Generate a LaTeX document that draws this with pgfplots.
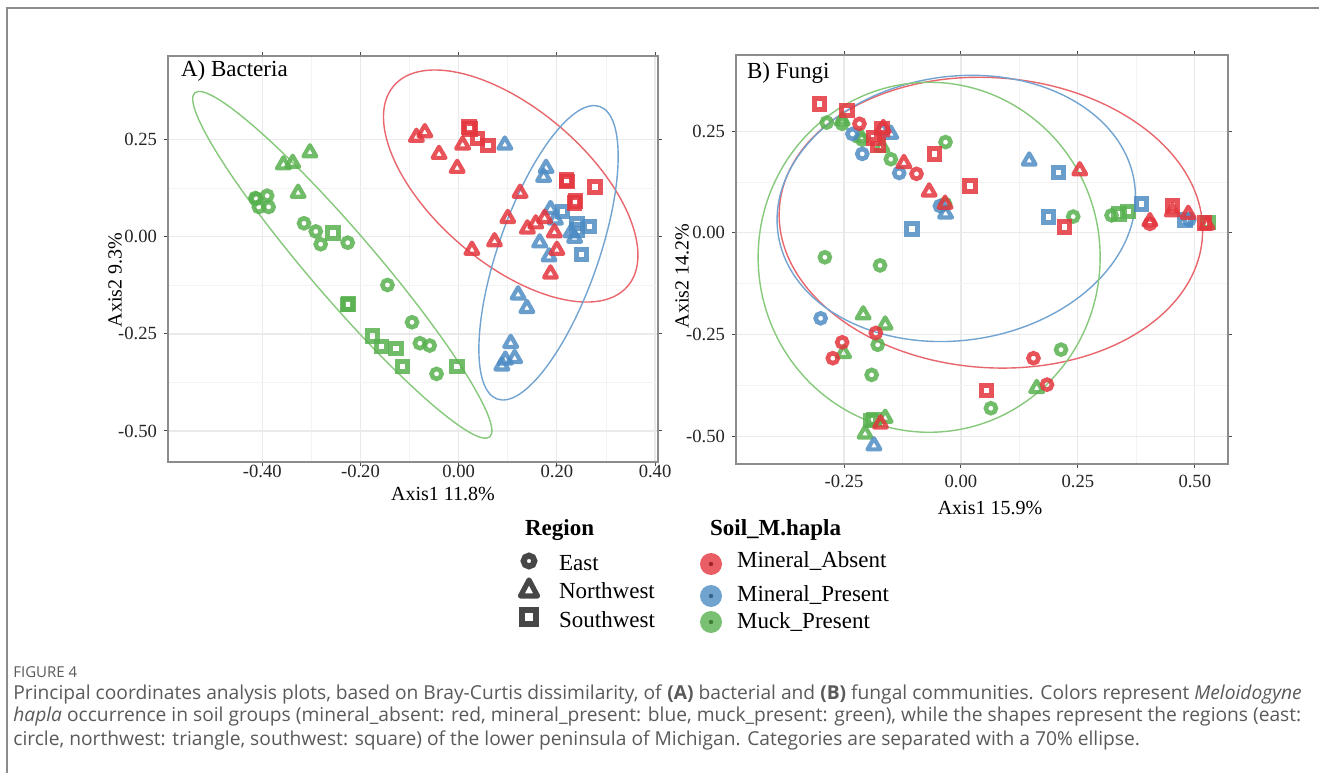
\documentclass[border=0pt]{standalone}
\usepackage{fontspec}
\setmainfont{Liberation Serif}
\newfontfamily\capfont{Open Sans}
\usepackage{pgfplots}
\pgfplotsset{compat=1.18}
\definecolor{cR}{HTML}{E4363E}
\definecolor{cB}{HTML}{4E8CC4}
\definecolor{cG}{HTML}{58B14F}
\definecolor{eR}{HTML}{E8666C}
\definecolor{eB}{HTML}{72A4D2}
\definecolor{eG}{HTML}{86C97B}
\definecolor{frame}{HTML}{8C8C8C}
\definecolor{gmaj}{HTML}{EAEAEA}
\definecolor{gmin}{HTML}{F3F3F3}
\definecolor{capgray}{HTML}{5A5A5A}
\definecolor{leggray}{HTML}{474747}
\pgfplotsset{
  pc/.style={
    scale only axis,
    axis line style={draw=frame, line width=1pt},
    grid=both,
    major grid style={draw=gmaj, line width=0.6pt},
    minor grid style={draw=gmin, line width=0.4pt},
    minor tick num=1, minor tick length=0pt,
    tick align=outside, major tick length=2pt,
    tick style={draw=black!70, line width=0.5pt},
    ticklabel style={font=\fontsize{9.3}{11}\selectfont, text=black!85},
    clip=false,
  },
  mC/.style={only marks, mark=o, mark size=2.5pt, mark options={line width=2.3pt, solid, draw opacity=0.85}},
  mT/.style={only marks, mark=triangle, mark size=3.7pt, mark options={line width=2.1pt, solid, line join=round, draw opacity=0.85}},
  mS/.style={only marks, mark=square, mark size=2.6pt, mark options={line width=2.5pt, solid, draw opacity=0.85}},
}
\begin{document}
\begin{tikzpicture}[x=0.5pt,y=0.5pt]
\path[use as bounding box, fill=white] (0,0) rectangle (1319,773);
\draw[frame, line width=1pt] (7,0) -- (7,765) -- (1319,765);

% ---------------- Panel A ----------------
\begin{axis}[pc, at={(84pt,155.5pt)}, anchor=south west, width=245pt, height=203pt,
  xmin=-0.592, xmax=0.406, ymin=-0.58, ymax=0.466,
  xtick={-0.4,-0.2,0,0.2,0.4}, xticklabels={-0.40,-0.20,0.00,0.20,0.40},
  xticklabel style={yshift=4pt},
  ytick={-0.5,-0.25,0,0.25}, yticklabels={-0.50,-0.25,0.00,0.25}]
\draw[eG, line width=0.7pt, rotate around={-49.4:(axis cs:-0.237,-0.072)}] (axis cs:-0.237,-0.072) ellipse [x radius=113.3pt, y radius=16.5pt];
\draw[eR, line width=0.7pt, rotate around={-40.6:(axis cs:0.106,0.131)}] (axis cs:0.106,0.131) ellipse [x radius=77pt, y radius=38.5pt];
\draw[eB, line width=0.7pt, rotate around={70.7:(axis cs:0.183,-0.041)}] (axis cs:0.183,-0.041) ellipse [x radius=77.5pt, y radius=25pt];
% green
\addplot[mT, cG] coordinates {(-0.357,0.186) (-0.338,0.190) (-0.303,0.217) (-0.327,0.113)};
\addplot[mC, cG] coordinates {(-0.414,0.100) (-0.412,0.098) (-0.390,0.106) (-0.407,0.077) (-0.387,0.077) (-0.315,0.035) (-0.291,0.014) (-0.281,-0.019) (-0.226,-0.015) (-0.145,-0.124) (-0.095,-0.220) (-0.079,-0.274) (-0.059,-0.280) (-0.045,-0.353)};
\addplot[mS, cG] coordinates {(-0.256,0.010) (-0.226,-0.175) (-0.224,-0.173) (-0.176,-0.255) (-0.157,-0.283) (-0.128,-0.287) (-0.115,-0.334) (-0.003,-0.334)};
% blue
\addplot[mT, cB] coordinates {(0.094,0.237) (0.178,0.177) (0.173,0.154) (0.187,0.071) (0.197,0.044) (0.165,-0.015) (0.184,-0.051) (0.229,0.011) (0.236,-0.003) (0.121,-0.149) (0.139,-0.184) (0.106,-0.274) (0.114,-0.313) (0.088,-0.332) (0.095,-0.317)};
\addplot[mS, cB] coordinates {(0.212,0.065) (0.241,0.035) (0.267,0.027) (0.241,0.018) (0.250,-0.046)};
% red
\addplot[mT, cR] coordinates {(-0.086,0.257) (-0.069,0.269) (-0.040,0.213) (-0.003,0.177) (0.008,0.237) (0.027,-0.034) (0.073,-0.012) (0.125,0.113) (0.100,0.048) (0.140,0.021) (0.157,0.034) (0.175,0.048) (0.195,0.011) (0.200,-0.034) (0.187,-0.095)};
\addplot[mS, cR] coordinates {(0.021,0.283) (0.023,0.278) (0.038,0.254) (0.060,0.235) (0.219,0.147) (0.221,0.142) (0.278,0.128) (0.236,0.087) (0.238,0.092)};
\end{axis}

% ---------------- Panel B ----------------
\begin{axis}[pc, at={(368pt,154.5pt)}, anchor=south west, width=246pt, height=204.5pt,
  xmin=-0.481, xmax=0.571, ymin=-0.568, ymax=0.437,
  xtick={-0.25,0,0.25,0.5}, xticklabels={-0.25,0.00,0.25,0.50},
  ytick={-0.5,-0.25,0,0.25}, yticklabels={-0.50,-0.25,0.00,0.25}]
\draw[eR, line width=0.7pt, rotate around={-4:(axis cs:0.064,0.025)}] (axis cs:0.064,0.025) ellipse [x radius=106pt, y radius=72.5pt];
\draw[eB, line width=0.7pt, rotate around={8:(axis cs:-0.010,0.060)}] (axis cs:-0.010,0.060) ellipse [x radius=90pt, y radius=66pt];
\draw[eG, line width=0.7pt] (axis cs:-0.068,-0.060) ellipse [x radius=85.5pt, y radius=87.5pt];
% green
\addplot[mC, cG] coordinates {(-0.287,0.271) (-0.254,0.268) (-0.211,0.229) (-0.150,0.181) (-0.033,0.223) (-0.034,0.071) (-0.291,-0.060) (-0.173,-0.080) (-0.178,-0.275) (-0.191,-0.349) (0.214,-0.287) (0.064,-0.431) (0.240,0.040) (0.322,0.043)};
\addplot[mT, cG] coordinates {(-0.254,0.276) (-0.214,0.235) (-0.169,0.211) (-0.209,-0.201) (-0.162,-0.226) (-0.251,-0.296) (-0.162,-0.455) (-0.205,-0.494) (0.162,-0.382)};
\addplot[mS, cG] coordinates {(-0.186,-0.458) (-0.194,-0.461) (0.338,0.046) (0.357,0.052) (0.528,0.025)};
% blue
\addplot[mT, cB] coordinates {(-0.169,0.253) (-0.150,0.243) (-0.033,0.047) (-0.186,-0.523) (0.146,0.177)};
\addplot[mC, cB] coordinates {(-0.232,0.243) (-0.211,0.194) (-0.132,0.147) (-0.045,0.066) (-0.300,-0.210) (0.488,0.032)};
\addplot[mS, cB] coordinates {(-0.105,0.009) (0.209,0.148) (0.187,0.039) (0.386,0.071) (0.479,0.032)};
% red
\addplot[mS, cR] coordinates {(-0.303,0.317) (-0.244,0.300) (-0.186,0.233) (-0.177,0.216) (-0.169,0.255) (-0.056,0.194) (0.019,0.115) (0.055,-0.387) (0.221,0.014) (0.452,0.066) (0.521,0.024)};
\addplot[mT, cR] coordinates {(-0.166,0.257) (-0.122,0.171) (-0.068,0.101) (-0.034,0.071) (-0.172,-0.469) (0.254,0.153) (0.404,0.028) (0.452,0.052) (0.486,0.046) (0.526,0.020)};
\addplot[mC, cR] coordinates {(-0.217,0.268) (-0.095,0.145) (-0.182,-0.246) (-0.254,-0.269) (-0.274,-0.308) (0.155,-0.308) (0.184,-0.373) (0.404,0.022)};
\end{axis}

% titles and axis labels
\node[anchor=west, font=\fontsize{11.5}{13}\selectfont] at (174,702) {A) Bacteria};
\node[anchor=west, font=\fontsize{11.5}{13}\selectfont] at (740,700) {B) Fungi};
\node[font=\fontsize{10}{12}\selectfont] at (443,279) {Axis1 11.8\%};
\node[font=\fontsize{10}{12}\selectfont] at (990,265) {Axis1 15.9\%};
\node[rotate=90, font=\fontsize{10}{12}\selectfont] at (115,493) {Axis2 9.3\%};
\node[rotate=90, font=\fontsize{10}{12}\selectfont] at (682,497) {Axis2 14.2\%};

% legend: Region
\node[anchor=west, font=\bfseries\fontsize{11.5}{13}\selectfont] at (518,243) {Region};
\draw[leggray, line width=3pt] (529,212) circle [radius=2.7pt];
\draw[leggray, line width=2.6pt, line join=round] (529,193) -- (537.5,177) -- (520.5,177) -- cycle;
\draw[leggray, line width=3pt] (522,163) rectangle (536,149);
\node[anchor=west, font=\fontsize{11.5}{13}\selectfont] at (552,210) {East};
\node[anchor=west, font=\fontsize{11.5}{13}\selectfont] at (552,182) {Northwest};
\node[anchor=west, font=\fontsize{11.5}{13}\selectfont] at (552,153) {Southwest};
% legend: Soil_M.hapla
\node[anchor=west, font=\bfseries\fontsize{11.5}{13}\selectfont] at (703,243) {Soil\_M.hapla};
\fill[cR, opacity=0.8] (711,209) circle [radius=5.5pt];
\fill[cR!70!black] (711,209) circle [radius=1.1pt];
\fill[cB, opacity=0.8] (711,177) circle [radius=5.5pt];
\fill[cB!70!black] (711,177) circle [radius=1.1pt];
\fill[cG, opacity=0.8] (711,151) circle [radius=5.5pt];
\fill[cG!70!black] (711,151) circle [radius=1.1pt];
\node[anchor=west, font=\fontsize{11.5}{13}\selectfont] at (730,212) {Mineral\_Absent};
\node[anchor=west, font=\fontsize{11.5}{13}\selectfont] at (730,178) {Mineral\_Present};
\node[anchor=west, font=\fontsize{11.5}{13}\selectfont] at (730,151) {Muck\_Present};

% caption
\node[anchor=west, inner sep=0pt, text=capgray, font=\capfont\fontsize{7.5}{8}\selectfont] at (13,101) {FIGURE 4};
\node[anchor=west, inner sep=0pt, text=capgray, font=\capfont\fontsize{9.6}{11}\selectfont] at (13,79) {Principal coordinates analysis plots, based on Bray-Curtis dissimilarity, of \textbf{(A)} bacterial and \textbf{(B)} fungal communities. Colors represent \textit{Meloidogyne}};
\node[anchor=west, inner sep=0pt, text=capgray, font=\capfont\fontsize{9.6}{11}\selectfont] at (13,56) {\textit{hapla} occurrence in soil groups (mineral\_absent: red, mineral\_present: blue, muck\_present: green), while the shapes represent the regions (east:};
\node[anchor=west, inner sep=0pt, text=capgray, font=\capfont\fontsize{9.6}{11}\selectfont] at (13,33) {circle, northwest: triangle, southwest: square) of the lower peninsula of Michigan. Categories are separated with a 70\% ellipse.};
\end{tikzpicture}
\end{document}
